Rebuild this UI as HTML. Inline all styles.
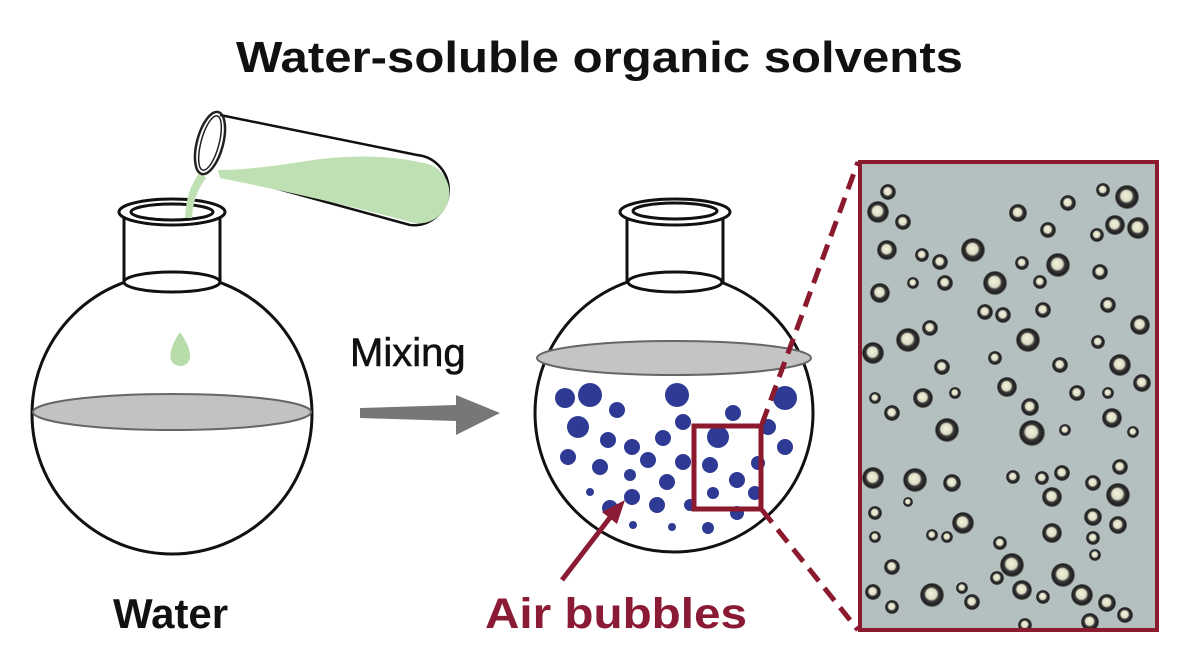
<!DOCTYPE html>
<html><head><meta charset="utf-8"><style>
html,body{margin:0;padding:0;background:#fff}
svg{display:block}
text{font-family:"Liberation Sans",sans-serif}
</style></head><body>
<svg width="1185" height="670" viewBox="0 0 1185 670" xmlns="http://www.w3.org/2000/svg">
<defs>
<radialGradient id="bg" cx="0.5" cy="0.5" r="0.5" fx="0.45" fy="0.42">
<stop offset="0" stop-color="#f4f2da"/><stop offset="0.45" stop-color="#dcdcc6"/><stop offset="0.6" stop-color="#3a3a3a"/><stop offset="0.88" stop-color="#1c1c1c"/><stop offset="1" stop-color="#7a7e7c"/>
</radialGradient>
<clipPath id="mc"><rect x="860" y="162" width="297" height="468"/></clipPath>
</defs>
<text x="236" y="72" font-size="44" font-weight="bold" fill="#111" textLength="727" lengthAdjust="spacingAndGlyphs">Water-soluble organic solvents</text>

<!-- left flask -->
<g fill="none" stroke="#111" stroke-width="3">
<circle cx="172" cy="414" r="140" fill="#fff"/>
<rect x="124" y="216" width="96" height="66" fill="#fff"/>
<ellipse cx="172" cy="282" rx="48" ry="10" fill="#fff"/>
<ellipse cx="172" cy="212" rx="53" ry="13" fill="#fff"/>
<ellipse cx="172" cy="212" rx="41" ry="8"/>
</g>
<ellipse cx="172" cy="412" rx="139" ry="18" fill="#c2c2c2" stroke="#666" stroke-width="2"/>
<path d="M180 332 Q168 350 171 360 A10 10 0 0 0 190 358 Q191 348 180 332Z" fill="#b8dcaa"/>
<!-- test tube -->
<path d="M220 115 L417 155 A35 35 0 0 1 410 225 L220 173" fill="#fff" stroke="#111" stroke-width="2.5"/>
<path d="M218 170 Q250 170 300 162 Q370 150 428 164 A28 28 0 0 1 410 222 Q330 200 220 178Z" fill="#bfe0b2"/>
<path d="M200 172 Q186 190 185 218 L192 218 Q193 195 206 178Z" fill="#bfe0b2"/>
<ellipse cx="210" cy="143" rx="13" ry="32" transform="rotate(15 210 143)" fill="none" stroke="#222" stroke-width="2.5"/>
<ellipse cx="210" cy="143" rx="9" ry="28" transform="rotate(15 210 143)" fill="none" stroke="#222" stroke-width="1.5"/>

<text x="350" y="366" font-size="40" fill="#111" stroke="#111" stroke-width="0.6">Mixing</text>
<path d="M360 408 L456 405 L456 395 L500 413 L456 435 L456 421 L360 418Z" fill="#777"/>
<text x="113" y="628" font-size="42" font-weight="bold" fill="#111">Water</text>

<!-- middle flask -->
<g fill="none" stroke="#111" stroke-width="3">
<circle cx="674" cy="413" r="139" fill="#fff"/>
<rect x="627" y="218" width="96" height="64" fill="#fff"/>
<ellipse cx="675" cy="282" rx="47" ry="10" fill="#fff"/>
<ellipse cx="675" cy="212" rx="55" ry="13" fill="#fff"/>
<ellipse cx="675" cy="211" rx="42" ry="8"/>
</g>
<ellipse cx="674" cy="358" rx="137" ry="17" fill="#c4c4c4" stroke="#666" stroke-width="2"/>
<g fill="#2e3a94">
<circle cx="565" cy="398" r="10"/><circle cx="590" cy="395" r="12"/><circle cx="617" cy="410" r="8"/><circle cx="677" cy="395" r="12"/><circle cx="785" cy="398" r="12"/><circle cx="578" cy="427" r="11"/><circle cx="733" cy="413" r="8"/><circle cx="683" cy="422" r="8"/><circle cx="718" cy="437" r="11"/><circle cx="768" cy="427" r="8"/><circle cx="608" cy="440" r="8"/><circle cx="632" cy="447" r="8"/><circle cx="663" cy="438" r="8"/><circle cx="785" cy="447" r="8"/><circle cx="568" cy="457" r="8"/><circle cx="648" cy="460" r="8"/><circle cx="683" cy="462" r="8"/><circle cx="710" cy="465" r="8"/><circle cx="758" cy="463" r="7"/><circle cx="600" cy="467" r="8"/><circle cx="630" cy="475" r="6"/><circle cx="667" cy="482" r="8"/><circle cx="737" cy="480" r="8"/><circle cx="590" cy="492" r="4"/><circle cx="632" cy="497" r="8"/><circle cx="713" cy="493" r="6"/><circle cx="755" cy="493" r="7"/><circle cx="610" cy="508" r="8"/><circle cx="657" cy="505" r="8"/><circle cx="690" cy="505" r="6"/><circle cx="737" cy="513" r="7"/><circle cx="633" cy="525" r="4"/><circle cx="672" cy="527" r="4"/><circle cx="708" cy="528" r="6"/>
</g>
<rect x="694" y="426" width="67" height="83" fill="none" stroke="#8b1a2e" stroke-width="5"/>
<g stroke="#8b1a2e" stroke-width="5" stroke-dasharray="16 9" fill="none">
<line x1="762" y1="424" x2="858" y2="162"/>
<line x1="762" y1="510" x2="858" y2="630"/>
</g>
<line x1="562" y1="580" x2="612" y2="515" stroke="#8b1a35" stroke-width="5"/>
<path d="M625 500 L602 512 L617 524Z" fill="#8b1a35"/>
<text x="485" y="628" font-size="43" font-weight="bold" fill="#8b1a35" textLength="262" lengthAdjust="spacingAndGlyphs">Air bubbles</text>

<!-- micrograph -->
<rect x="860" y="162" width="297" height="468" fill="#b4c0bf"/>
<g clip-path="url(#mc)" fill="url(#bg)">
<circle cx="888" cy="192" r="8"/><circle cx="878" cy="212" r="11"/><circle cx="903" cy="222" r="8"/><circle cx="887" cy="250" r="10"/><circle cx="922" cy="255" r="7"/><circle cx="940" cy="262" r="8"/><circle cx="973" cy="250" r="12"/><circle cx="1018" cy="213" r="9"/><circle cx="1048" cy="230" r="8"/><circle cx="1068" cy="203" r="8"/><circle cx="1103" cy="190" r="7"/><circle cx="1127" cy="197" r="12"/><circle cx="1115" cy="225" r="10"/><circle cx="1138" cy="228" r="11"/><circle cx="1097" cy="235" r="7"/><circle cx="1022" cy="263" r="7"/><circle cx="1058" cy="265" r="12"/><circle cx="1100" cy="272" r="8"/><circle cx="995" cy="283" r="12"/><circle cx="1040" cy="282" r="7"/><circle cx="945" cy="283" r="8"/><circle cx="913" cy="283" r="6"/><circle cx="880" cy="293" r="10"/><circle cx="985" cy="312" r="8"/><circle cx="1003" cy="315" r="8"/><circle cx="1043" cy="310" r="8"/><circle cx="1108" cy="305" r="8"/><circle cx="1140" cy="325" r="10"/><circle cx="908" cy="340" r="12"/><circle cx="930" cy="328" r="8"/><circle cx="1028" cy="340" r="12"/><circle cx="1098" cy="342" r="7"/><circle cx="873" cy="353" r="11"/><circle cx="995" cy="358" r="7"/><circle cx="942" cy="367" r="8"/><circle cx="1060" cy="365" r="8"/><circle cx="1120" cy="365" r="11"/><circle cx="1007" cy="387" r="10"/><circle cx="955" cy="393" r="6"/><circle cx="923" cy="398" r="10"/><circle cx="1077" cy="393" r="8"/><circle cx="1142" cy="383" r="9"/><circle cx="1108" cy="393" r="6"/><circle cx="875" cy="398" r="6"/>
<circle cx="892" cy="413" r="8"/><circle cx="947" cy="430" r="12"/><circle cx="1032" cy="433" r="13"/><circle cx="1030" cy="407" r="9"/><circle cx="1065" cy="430" r="6"/><circle cx="1112" cy="418" r="10"/><circle cx="1133" cy="432" r="6"/><circle cx="873" cy="478" r="11"/><circle cx="915" cy="480" r="12"/><circle cx="952" cy="483" r="9"/><circle cx="1013" cy="477" r="7"/><circle cx="1042" cy="478" r="7"/><circle cx="1062" cy="473" r="8"/><circle cx="1120" cy="467" r="8"/><circle cx="1093" cy="483" r="8"/><circle cx="1052" cy="497" r="10"/><circle cx="1118" cy="495" r="12"/><circle cx="908" cy="502" r="5"/><circle cx="875" cy="513" r="7"/><circle cx="963" cy="523" r="11"/><circle cx="1093" cy="517" r="9"/><circle cx="1118" cy="525" r="9"/><circle cx="1052" cy="533" r="10"/><circle cx="875" cy="537" r="6"/><circle cx="932" cy="535" r="6"/><circle cx="947" cy="537" r="6"/><circle cx="1000" cy="543" r="7"/><circle cx="1093" cy="538" r="7"/><circle cx="1095" cy="555" r="6"/><circle cx="1012" cy="565" r="12"/><circle cx="892" cy="567" r="8"/><circle cx="1063" cy="575" r="12"/><circle cx="997" cy="578" r="7"/><circle cx="1022" cy="590" r="10"/><circle cx="873" cy="592" r="8"/><circle cx="932" cy="595" r="12"/><circle cx="962" cy="588" r="6"/><circle cx="972" cy="602" r="8"/><circle cx="1043" cy="597" r="7"/><circle cx="1082" cy="595" r="11"/><circle cx="1107" cy="603" r="9"/><circle cx="1125" cy="615" r="8"/><circle cx="892" cy="607" r="7"/><circle cx="1025" cy="625" r="7"/><circle cx="1090" cy="622" r="9"/>
</g>
<rect x="860" y="162" width="297" height="468" fill="none" stroke="#8b1a2e" stroke-width="4"/>
</svg>
</body></html>
